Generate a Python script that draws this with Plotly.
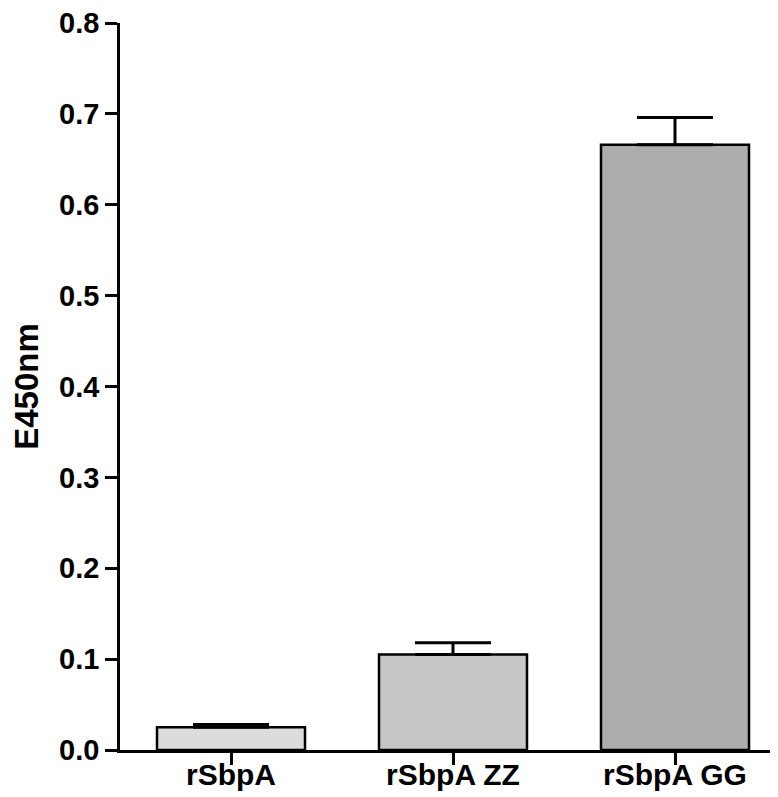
import plotly.graph_objects as go

categories = ["rSbpA", "rSbpA ZZ", "rSbpA GG"]
means = [0.025, 0.105, 0.666]
errors = [0.003, 0.013, 0.030]
bar_colors = ["#dcdcdc", "#c6c6c6", "#adadad"]
y_ticks = [0.0, 0.1, 0.2, 0.3, 0.4, 0.5, 0.6, 0.7, 0.8]
y_title = "E450nm"

fig = go.Figure()
fig.add_trace(go.Bar(
    x=categories,
    y=means,
    marker=dict(color=bar_colors, line=dict(color="black", width=2.5)),
    error_y=dict(type="data", symmetric=False, array=errors,
                 arrayminus=[0] * len(errors),
                 color="black", thickness=3, width=38),
))

font_main = dict(family="Liberation Sans, Arial, sans-serif", size=29, color="black", weight="bold")

fig.update_layout(
    width=778, height=797,
    margin=dict(l=112, r=0, t=15, b=55),
    paper_bgcolor="white", plot_bgcolor="white",
    bargap=1/3,
    showlegend=False,
    font=font_main,
)
fig.update_xaxes(
    showline=True, linecolor="black", linewidth=2.5,
    ticks="outside", ticklen=12, tickwidth=2.5, tickcolor="black",
    tickfont=dict(family="Liberation Sans, Arial, sans-serif", size=30, color="black", weight="bold"),
    showgrid=False, zeroline=False,
    ticklabelstandoff=-16, ticklabeloverflow="allow", automargin=False,
)
fig.update_yaxes(
    range=[0, 0.8], tickvals=y_ticks, tickformat=".1f",
    showline=True, linecolor="black", linewidth=2.5,
    ticks="outside", ticklen=12, tickwidth=2.5, tickcolor="black",
    tickfont=font_main, showgrid=False, zeroline=False,
    ticklabeloverflow="allow",
    title=dict(text=y_title, font=dict(family="Liberation Sans, Arial, sans-serif", size=33, color="black", weight="bold"), standoff=24),
    automargin=False,
)

fig.write_html("out.html")
